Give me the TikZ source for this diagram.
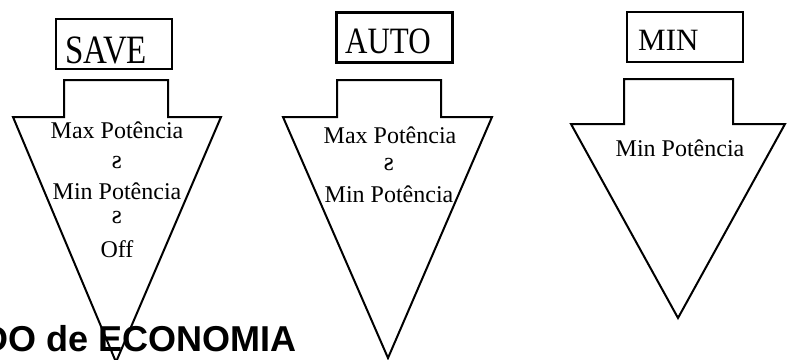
\documentclass[tikz,border=0pt]{standalone}
\usepackage{fontspec}
\setmainfont{Liberation Serif}
\setsansfont{Liberation Sans}
\begin{document}
\begin{tikzpicture}[x=1pt,y=-1pt,
  titlebox/.style={draw, line width=2.6pt, minimum width=116pt, minimum height=50pt, inner sep=0pt},
  titletext/.style={font=\fontsize{31}{31}\selectfont, inner sep=0pt, anchor=base west},
  arrowshape/.style={draw, line width=2pt, line join=miter},
  lbl/.style={font=\fontsize{24}{28}\selectfont, inner sep=0pt, anchor=base},
  sym/.style={font=\fontsize{26}{28}\selectfont, inner sep=0pt},
  banner/.style={font=\sffamily\bfseries\fontsize{36}{40}\selectfont, inner sep=0pt, anchor=base east},
]
\useasboundingbox (0,0) rectangle (787,359);
\clip (0,0) rectangle (787,359);

% SAVE
\node[titlebox] (savebox) at (114,44) {};
\node[titletext, font=\fontsize{33}{33}\selectfont] (savetext) at (65,63) {\scalebox{1}[1.22]{SAVE}};
\draw[arrowshape] (64,80) -- (168,80) -- (168,117) -- (221,117) -- (116,362) -- (13,117) -- (64,117) -- cycle;
\node[lbl] (s1) at (117,138) {Max Potência};
\node[sym] (s2) at (117,162) {ƨ};
\node[lbl] (s3) at (117,199) {Min Potência};
\node[sym] (s4) at (117,217) {ƨ};
\node[lbl] (s5) at (117,257) {Off};

% AUTO
\node[titlebox] (autobox) at (394.5,37.5) {};
\node[titletext] (autotext) at (345,53) {\scalebox{1}[1.2]{AUTO}};
\draw[arrowshape] (337,80) -- (441,80) -- (441,117) -- (492,117) -- (388,358) -- (283,117) -- (337,117) -- cycle;
\node[lbl] (a1) at (390,143) {Max Potência};
\node[sym] (a2) at (389,164) {ƨ};
\node[lbl] (a3) at (389,202) {Min Potência};

% MIN
\node[titlebox] (minbox) at (685,37) {};
\node[titletext] (mintext) at (638,50) {MIN};
\draw[arrowshape] (624,79) -- (733,79) -- (733,124) -- (785,124) -- (678,318) -- (571,124) -- (624,124) -- cycle;
\node[lbl] (m1) at (680,156) {Min Potência};

% banner (cut off at the left edge, as in the reference)
\node[banner] (title) at (297,351) {DO de ECONOMIA};
\end{tikzpicture}
\end{document}
